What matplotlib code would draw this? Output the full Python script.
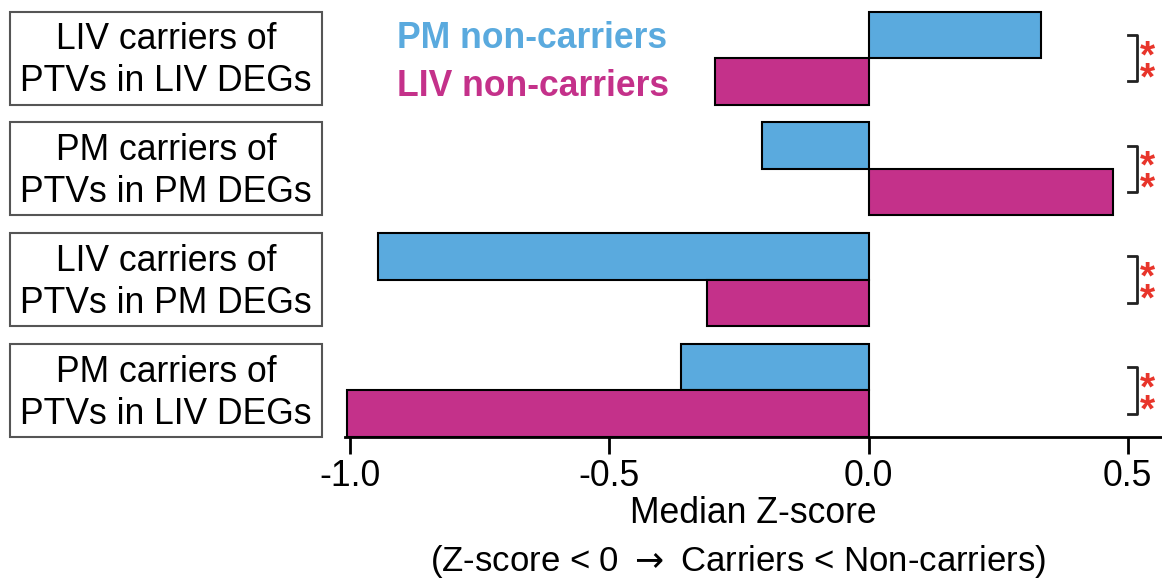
import matplotlib
matplotlib.use("Agg")
import matplotlib.pyplot as plt
from matplotlib.patches import Rectangle
from matplotlib import transforms

plt.rcParams["font.family"] = ["Liberation Sans", "DejaVu Sans"]
plt.rcParams["axes.unicode_minus"] = False

# groups from top to bottom
group_labels = [
    "LIV carriers of\nPTVs in LIV DEGs",
    "PM carriers of\nPTVs in PM DEGs",
    "LIV carriers of\nPTVs in PM DEGs",
    "PM carriers of\nPTVs in LIV DEGs",
]
pm_noncarriers = [0.333, -0.206, -0.947, -0.362]
liv_noncarriers = [-0.296, 0.471, -0.312, -1.007]
signif = ["**", "**", "**", "**"]
series_names = ["PM non-carriers", "LIV non-carriers"]
xticks = [-1.0, -0.5, 0.0, 0.5]

BLUE = "#5AAADE"
MAGENTA = "#C4318A"
RED = "#E8352B"
H = 0.42
FS = 25.6

fig = plt.figure(figsize=(11.62, 5.83), dpi=100)
ax = fig.add_axes([345 / 1162, 1 - 437 / 583, 1 - 345 / 1162, 437 / 583])

n = len(group_labels)
centers = [n - 1 - i for i in range(n)]
ax.barh([c + H / 2 for c in centers], pm_noncarriers, height=H, color=BLUE,
        edgecolor="black", linewidth=1.5)
ax.barh([c - H / 2 for c in centers], liv_noncarriers, height=H, color=MAGENTA,
        edgecolor="black", linewidth=1.5)

ax.set_xlim(-1.01, 0.566)
ax.set_ylim(-H, -H + 437 / 110.8)
for s in ["top", "right", "left"]:
    ax.spines[s].set_visible(False)
ax.spines["bottom"].set_linewidth(2)
ax.set_yticks([])
ax.set_xticks(xticks)
ax.set_xticklabels(["%.1f" % t for t in xticks])
ax.tick_params(axis="x", length=12, width=2, labelsize=FS, pad=4)
ax.set_xlabel("Median Z-score", fontsize=FS, labelpad=1)
fig.text(738 / 1162, 1 - 562 / 583, r"(Z-score < 0 $\rightarrow$ Carriers < Non-carriers)",
         fontsize=25, ha="center", va="center")

# label boxes on the left: x in figure coords, y in data coords
blend = transforms.blended_transform_factory(fig.transFigure, ax.transData)
x0, x1 = 10 / 1162, 322 / 1162
for c, lab in zip(centers, group_labels):
    ax.add_patch(Rectangle((x0, c - H), x1 - x0, 2 * H, transform=blend,
                           facecolor="white", edgecolor="#555555", linewidth=1.5,
                           clip_on=False))
    ax.text((x0 + x1) / 2, c - 0.025, lab, transform=blend, ha="center", va="center",
            fontsize=FS, linespacing=1.27, clip_on=False)

# significance brackets
for c, sig in zip(centers, signif):
    ax.plot([0.5005, 0.518, 0.518, 0.5005],
            [c + H / 2, c + H / 2, c - H / 2, c - H / 2],
            color="#222222", linewidth=2, clip_on=False)
    ax.text(0.538, c - 0.09, "\n".join(sig), color=RED, fontsize=28,
            ha="center", va="center", linespacing=0.5, fontweight="bold",
            clip_on=False)

# legend as coloured text
top = centers[0]
ax.text(-0.91, top + H / 2 - 0.03, series_names[0], color=BLUE, fontsize=FS,
        fontweight="bold", ha="left", va="center")
ax.text(-0.91, top - H / 2 - 0.045, series_names[1], color=MAGENTA, fontsize=FS,
        fontweight="bold", ha="left", va="center")

fig.savefig("out.png", dpi=100)
